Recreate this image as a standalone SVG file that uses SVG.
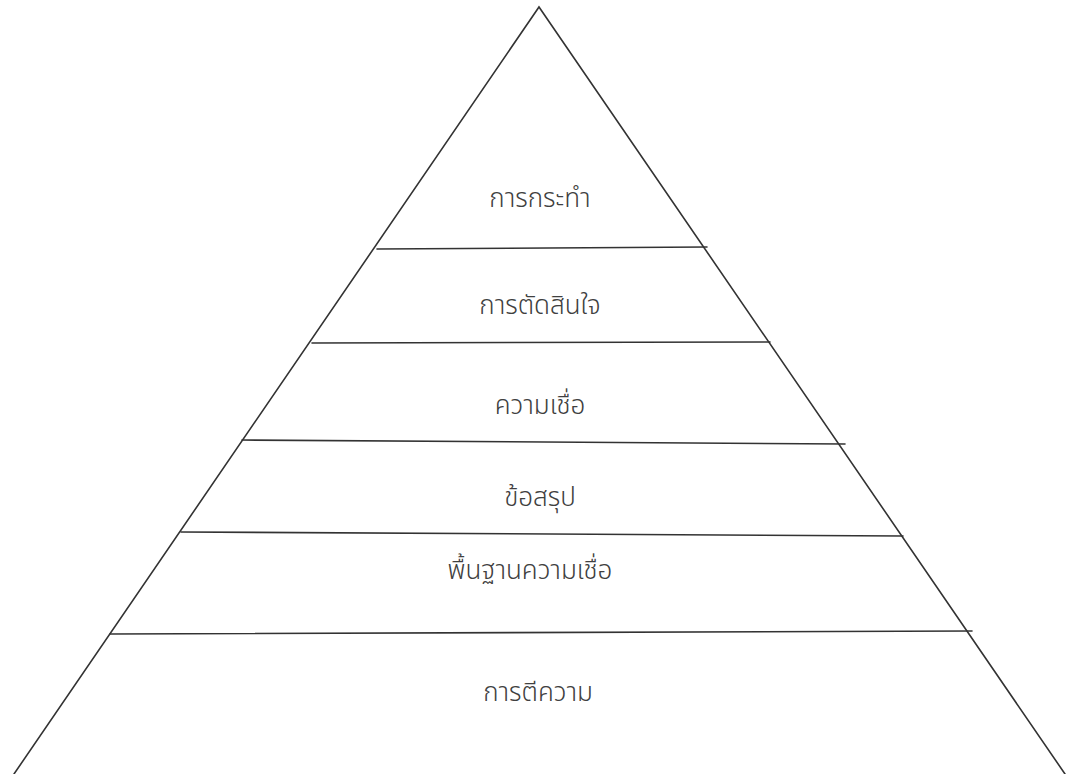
<svg xmlns="http://www.w3.org/2000/svg" width="1072" height="774" viewBox="0 0 1072 774">
<style>
.edge{fill:none;stroke:#333;stroke-width:1.6;stroke-linecap:round}
.lbl{font-family:"Noto Sans Thai","Noto Sans","DejaVu Sans",sans-serif;font-size:26px;font-weight:300;fill:#404040;text-anchor:middle}
</style>
<rect width="1072" height="774" fill="#fff"/>
<g id="connectors">
<polyline class="edge" points="14,774 539,7 1065,774"/>
<line class="edge" x1="377" y1="249" x2="707" y2="247"/>
<line class="edge" x1="312" y1="343" x2="770" y2="342"/>
<line class="edge" x1="242" y1="440" x2="845" y2="444"/>
<line class="edge" x1="181" y1="532" x2="903" y2="536"/>
<line class="edge" x1="110" y1="634" x2="972" y2="631"/>
</g>
<g id="n1"><text class="lbl" x="540" y="207">การกระทำ</text></g>
<g id="n2"><text class="lbl" x="540" y="314">การตัดสินใจ</text></g>
<g id="n3"><text class="lbl" x="540" y="414">ความเชื่อ</text></g>
<g id="n4"><text class="lbl" x="540" y="506">ข้อสรุป</text></g>
<g id="n5"><text class="lbl" x="530" y="579">พื้นฐานความเชื่อ</text></g>
<g id="n6"><text class="lbl" x="538" y="701">การตีความ</text></g>
</svg>
